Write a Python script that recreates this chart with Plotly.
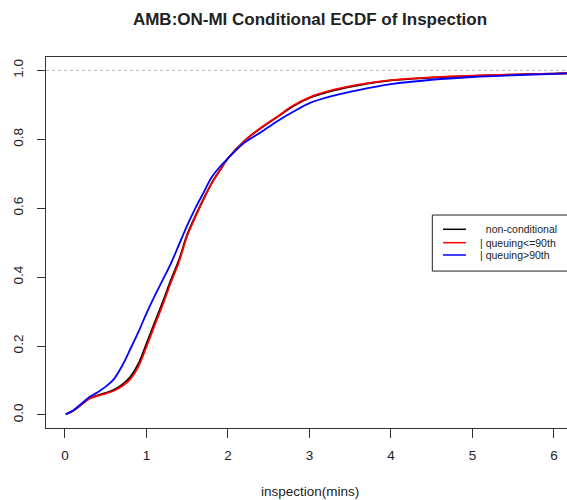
import plotly.graph_objects as go

# inspection time grid (mins) and ECDF values
inspection = [0.01, 0.1, 0.2, 0.3, 0.4, 0.5, 0.6, 0.7, 0.8, 0.9, 1.0, 1.1, 1.2, 1.3, 1.4, 1.5, 1.6, 1.7,
              1.8, 1.9, 2.0, 2.2, 2.4, 2.6, 2.8, 3.0, 3.3, 3.6, 4.0, 4.5, 5.0, 5.5, 6.0, 6.2]

ecdf_all = [0.002, 0.012, 0.030, 0.048, 0.057, 0.064, 0.073, 0.088, 0.110, 0.148, 0.207, 0.268, 0.328,
            0.392, 0.451, 0.524, 0.578, 0.627, 0.673, 0.710, 0.745, 0.795, 0.832, 0.864, 0.896, 0.920,
            0.942, 0.957, 0.971, 0.979, 0.984, 0.988, 0.991, 0.992]

ecdf_low = [0.002, 0.012, 0.030, 0.047, 0.055, 0.062, 0.070, 0.083, 0.103, 0.140, 0.198, 0.260, 0.320,
            0.385, 0.445, 0.520, 0.575, 0.625, 0.672, 0.710, 0.745, 0.795, 0.833, 0.865, 0.898, 0.922,
            0.944, 0.959, 0.972, 0.980, 0.985, 0.988, 0.991, 0.992]

ecdf_high = [0.002, 0.013, 0.032, 0.052, 0.066, 0.082, 0.104, 0.142, 0.190, 0.240, 0.295, 0.345, 0.392,
             0.440, 0.495, 0.550, 0.600, 0.645, 0.690, 0.720, 0.745, 0.790, 0.820, 0.852, 0.880, 0.905,
             0.927, 0.943, 0.960, 0.973, 0.981, 0.986, 0.990, 0.992]

series_names = ['\u00a0\u00a0non-conditional', '| queuing<=90th', '| queuing>90th']
series_colors = ['black', '#ff0000', '#0000ff']

x_ticks = [0, 1, 2, 3, 4, 5, 6]
y_ticks = [0.0, 0.2, 0.4, 0.6, 0.8, 1.0]
y_ticktext = ['0.0', '0.2', '0.4', '0.6', '0.8', '1.0']

fig = go.Figure()

for name, vals, col in zip(series_names, [ecdf_all, ecdf_low, ecdf_high], series_colors):
    fig.add_trace(go.Scatter(x=inspection, y=vals, name=name, mode='lines', showlegend=False,
                             line=dict(color=col, width=1.8, shape='spline')))

# reference line at 1 like R's ecdf plot
fig.add_hline(y=1, line=dict(color='#b8b8b8', width=1, dash='3px,3px'), layer='below')

# R style legend box (drawn by hand, plotly's own rows are too tall)
leg_x0, leg_x1, leg_y0, leg_y1 = 0.7415, 1.1, 0.423, 0.574
leg_rows = [0.5356, 0.4995, 0.4663]
fig.add_shape(type='rect', xref='paper', yref='paper', x0=leg_x0, x1=leg_x1, y0=leg_y0, y1=leg_y1,
              line=dict(color='#222', width=1), fillcolor='white', layer='above')
for row, name, col in zip(leg_rows, series_names, series_colors):
    fig.add_shape(type='line', xref='paper', yref='paper', x0=0.762, x1=0.806, y0=row, y1=row,
                  line=dict(color=col, width=1.5))
    fig.add_annotation(text=name, x=0.8285, y=row, xref='paper', yref='paper',
                       xanchor='left', yanchor='middle', showarrow=False,
                       font=dict(size=10.5, color='#222'))

fig.update_layout(
    width=567,
    height=500,
    margin=dict(l=46, r=0, t=57, b=72, autoexpand=False),
    paper_bgcolor='white',
    plot_bgcolor='white',
    font=dict(family='Liberation Sans, Arial, sans-serif', color='#222', size=13.5),
    title=dict(text='<b>AMB:ON-MI Conditional ECDF of Inspection</b>',
               x=310 / 567, xanchor='center', xref='container',
               y=1 - 19 / 500, yanchor='middle', yref='container',
               font=dict(size=17, color='#222')),
    showlegend=False,
    xaxis=dict(
        range=[-0.233, 6.16],
        tickvals=x_ticks,
        ticks='outside', ticklen=9, tickcolor='#333', tickwidth=1,
        showline=True, linecolor='#333', linewidth=1, mirror=True,
        showgrid=False, zeroline=False,
        ticklabelstandoff=6
    ),
    yaxis=dict(
        range=[-0.038, 1.039],
        tickvals=y_ticks, ticktext=y_ticktext, tickangle=-90,
        ticks='outside', ticklen=8, tickcolor='#333', tickwidth=1,
        showline=True, linecolor='#333', linewidth=1,
        showgrid=False, zeroline=False,
        ticklabelstandoff=9
    ),
)

fig.add_annotation(text='inspection(mins)', x=0.507, y=-0.17, xref='paper', yref='paper',
                   xanchor='center', yanchor='middle', showarrow=False,
                   font=dict(size=13.5, color='#222'))

# drop the default 8px body margin so the figure fills the window, no modebar
fig.write_html("out.html", config={'displayModeBar': False},
               post_script="document.body.style.margin = '0px';")
